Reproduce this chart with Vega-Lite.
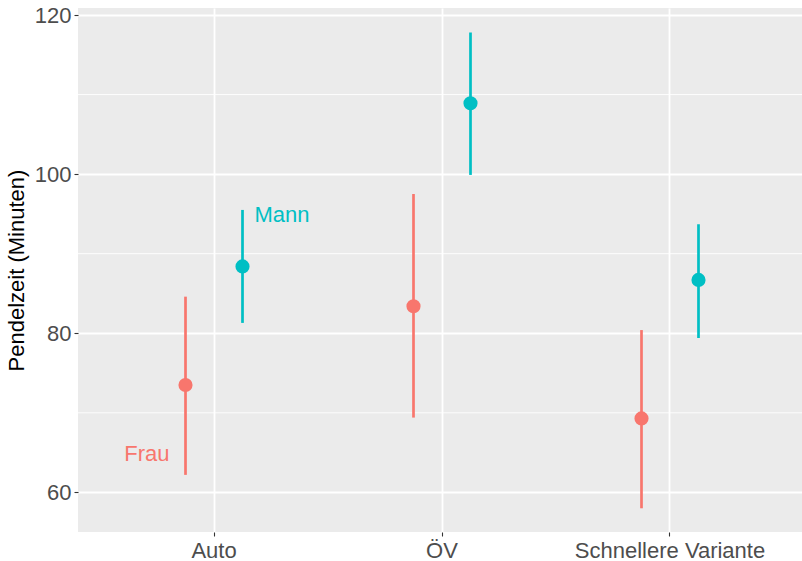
{
  "$schema": "https://vega.github.io/schema/vega-lite/v6.json",
  "width": 728,
  "height": 524,
  "autosize": {"type": "none"},
  "padding": {"left": 78, "top": 8, "right": 0, "bottom": 29},
  "background": "white",
  "config": {
    "font": "Liberation Sans",
    "view": {"fill": "#EBEBEB", "stroke": null},
    "axis": {
      "domain": false,
      "tickColor": "#333333",
      "tickSize": 4,
      "tickWidth": 1.1,
      "labelColor": "#4D4D4D",
      "labelFontSize": 22,
      "labelPadding": 3,
      "labelLimit": 0,
      "titleFontSize": 22,
      "titleFontWeight": "normal",
      "titleColor": "#000000",
      "gridColor": "#FFFFFF",
      "gridWidth": 1.8
    }
  },
  "datasets": {
    "main": [
      {"modus": "Auto", "geschlecht": "Frau", "mittel": 73.5, "unten": 62.2, "oben": 84.6},
      {"modus": "Auto", "geschlecht": "Mann", "mittel": 88.4, "unten": 81.3, "oben": 95.5},
      {"modus": "ÖV", "geschlecht": "Frau", "mittel": 83.4, "unten": 69.4, "oben": 97.5},
      {"modus": "ÖV", "geschlecht": "Mann", "mittel": 108.9, "unten": 99.9, "oben": 117.8},
      {"modus": "Schnellere Variante", "geschlecht": "Frau", "mittel": 69.3, "unten": 58.0, "oben": 80.4},
      {"modus": "Schnellere Variante", "geschlecht": "Mann", "mittel": 86.7, "unten": 79.4, "oben": 93.7}
    ]
  },
  "layer": [
    {
      "data": {"values": [{"v": 70}, {"v": 90}, {"v": 110}]},
      "mark": {"type": "rule", "color": "#FFFFFF", "strokeWidth": 0.9},
      "encoding": {
        "y": {"field": "v", "type": "quantitative"}
      }
    },
    {
      "data": {"name": "main"},
      "mark": {"type": "rule", "strokeWidth": 2.7},
      "encoding": {
        "x": {"field": "modus", "type": "nominal", "sort": ["Auto", "ÖV", "Schnellere Variante"],
              "scale": {"type": "band", "paddingInner": 0, "paddingOuter": 0.0965},
              "axis": {"title": null, "grid": true, "labelAngle": 0, "labelPadding": 4}},
        "xOffset": {"field": "geschlecht", "type": "nominal", "scale": {"type": "point", "padding": 0, "range": [85.5, 142.5]}},
        "y": {"field": "unten", "type": "quantitative",
              "scale": {"domain": [55.02, 120.88], "nice": false, "zero": false},
              "axis": {"title": "Pendelzeit (Minuten)", "values": [60, 80, 100, 120], "titlePadding": 6}},
        "y2": {"field": "oben"},
        "color": {"field": "geschlecht", "type": "nominal",
                  "scale": {"domain": ["Frau", "Mann"], "range": ["#F8766D", "#00BFC4"]}, "legend": null}
      }
    },
    {
      "data": {"name": "main"},
      "mark": {"type": "point", "filled": true, "opacity": 1, "size": 200},
      "encoding": {
        "x": {"field": "modus", "type": "nominal", "sort": ["Auto", "ÖV", "Schnellere Variante"]},
        "xOffset": {"field": "geschlecht", "type": "nominal"},
        "y": {"field": "mittel", "type": "quantitative"},
        "color": {"field": "geschlecht", "type": "nominal", "legend": null}
      }
    },
    {
      "data": {"values": [{"modus": "Auto", "geschlecht": "Frau", "wert": 64.8, "text": "Frau"}]},
      "mark": {"type": "text", "align": "right", "baseline": "middle", "dx": -16, "fontSize": 22},
      "encoding": {
        "x": {"field": "modus", "type": "nominal", "sort": ["Auto", "ÖV", "Schnellere Variante"]},
        "xOffset": {"field": "geschlecht", "type": "nominal"},
        "y": {"field": "wert", "type": "quantitative"},
        "text": {"field": "text"},
        "color": {"field": "geschlecht", "type": "nominal", "legend": null}
      }
    },
    {
      "data": {"values": [{"modus": "Auto", "geschlecht": "Mann", "wert": 94.9, "text": "Mann"}]},
      "mark": {"type": "text", "align": "left", "baseline": "middle", "dx": 12, "fontSize": 22},
      "encoding": {
        "x": {"field": "modus", "type": "nominal", "sort": ["Auto", "ÖV", "Schnellere Variante"]},
        "xOffset": {"field": "geschlecht", "type": "nominal"},
        "y": {"field": "wert", "type": "quantitative"},
        "text": {"field": "text"},
        "color": {"field": "geschlecht", "type": "nominal", "legend": null}
      }
    }
  ]
}
